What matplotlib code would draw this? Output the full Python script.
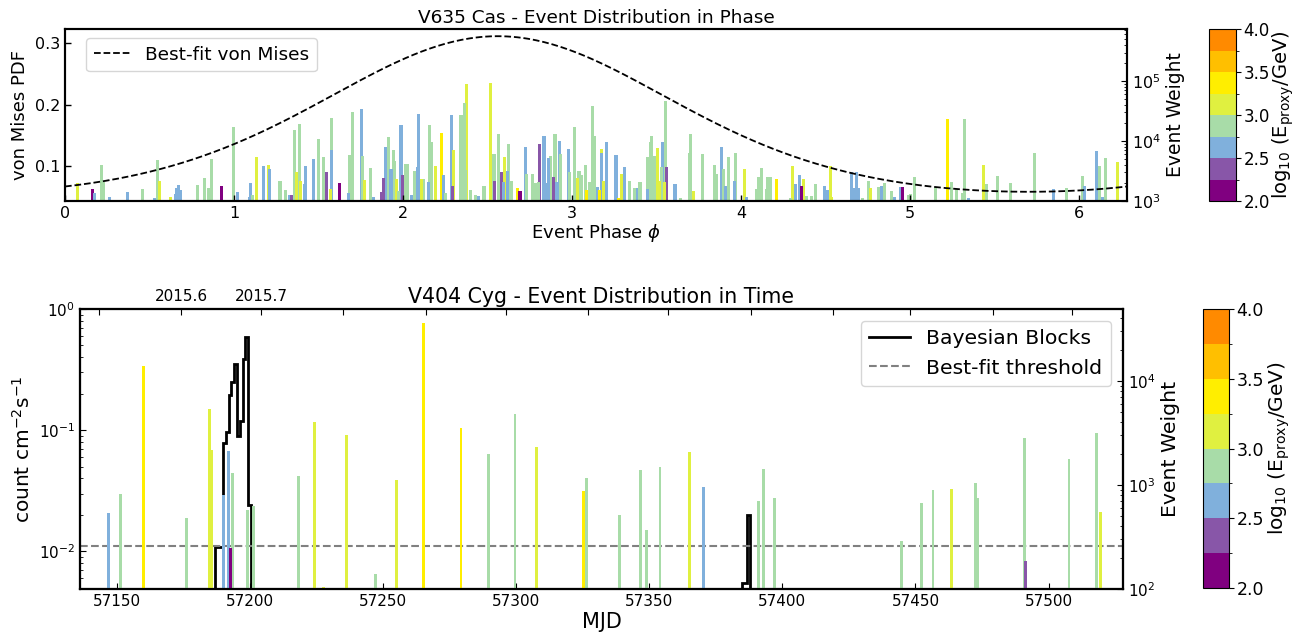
import numpy as np
import matplotlib
matplotlib.use('Agg')
import matplotlib.pyplot as plt
from matplotlib.colors import ListedColormap, BoundaryNorm
from matplotlib.lines import Line2D
import matplotlib.cm as cm

# ---------------- colour scale (log10 E_proxy bins) ----------------
energy_bounds = [2.0, 2.25, 2.5, 2.75, 3.0, 3.25, 3.5, 3.75, 4.0]
energy_colors = ['#800080', '#8856a8', '#80b0dc', '#a8dca8',
                 '#e0f040', '#ffee00', '#ffbf00', '#ff8a00']
cbar_ticks = [2.0, 2.5, 3.0, 3.5, 4.0]
code_energy = {'P': 2.1, 'V': 2.4, 'B': 2.6, 'G': 2.9, 'L': 3.1, 'Y': 3.4}

# ---------------- top panel: V635 Cas, phase ----------------
vm_mu = 2.56
vm_kappa = 0.84

top_phase = [
    0.073, 0.162, 0.174, 0.217, 0.227, 0.266, 0.369, 0.458, 0.529, 0.546,
    0.558, 0.627, 0.651, 0.661, 0.671, 0.684, 0.783, 0.825, 0.848, 0.868,
    0.925, 0.996, 1.020, 1.089, 1.099, 1.110, 1.132, 1.174, 1.203, 1.209,
    1.272, 1.302, 1.327, 1.341, 1.357, 1.371, 1.387, 1.394, 1.420, 1.424,
    1.470, 1.499, 1.529, 1.548, 1.572, 1.574, 1.578, 1.623, 1.677, 1.686,
    1.702, 1.760, 1.757, 1.771, 1.809, 1.828, 1.874, 1.884, 1.899, 1.913,
    1.923, 1.933, 1.943, 1.949, 1.963, 1.973, 1.988, 1.998, 2.016, 2.028,
    2.051, 2.065, 2.087, 2.091, 2.110, 2.120, 2.150, 2.156, 2.170, 2.193,
    2.225, 2.239, 2.249, 2.284, 2.292, 2.298, 2.343, 2.363, 2.367, 2.373,
    2.401, 2.426, 2.446,
    2.479, 2.515, 2.538, 2.540, 2.564, 2.580, 2.594, 2.600, 2.618, 2.623,
    2.639, 2.676, 2.692, 2.722, 2.728, 2.765, 2.781, 2.801, 2.807, 2.834,
    2.846, 2.860, 2.875, 2.889, 2.899, 2.909, 2.925, 2.933, 2.978, 2.982,
    3.014, 3.033, 3.041, 3.057, 3.077, 3.087, 3.102, 3.120, 3.132, 3.152,
    3.160, 3.172, 3.176, 3.185, 3.201, 3.260, 3.274, 3.294, 3.308, 3.339,
    3.369, 3.383, 3.402, 3.448, 3.448, 3.462, 3.471, 3.487, 3.507, 3.517,
    3.531, 3.537, 3.546, 3.554, 3.560, 3.609, 3.639, 3.692, 3.702, 3.718,
    3.773, 3.842, 3.856, 3.882, 3.896, 3.905, 3.925, 3.961, 3.969, 4.018,
    4.034, 4.093, 4.103, 4.118, 4.148, 4.158, 4.172, 4.211, 4.290, 4.306,
    4.320, 4.345, 4.359, 4.369, 4.385, 4.414, 4.438, 4.491, 4.511, 4.527,
    4.537, 4.655, 4.665, 4.684, 4.694, 4.720, 4.753, 4.763, 4.813, 4.829,
    4.848,
    4.888, 4.905, 4.941, 4.955, 4.990, 5.000, 5.026, 5.152, 5.223, 5.247,
    5.276, 5.310, 5.322, 5.345, 5.434, 5.454, 5.517, 5.596, 5.736, 5.848,
    5.927, 6.022, 6.030, 6.105, 6.118, 6.138, 6.158, 6.227,
]
top_log_weight = [
    3.294, 3.194, 3.128, 3.600, 3.311, 3.061, 3.144, 3.194, 3.044, 3.683,
    3.333, 3.061, 3.117, 3.211, 3.267, 3.183, 3.267, 3.378, 3.211, 3.700,
    3.250, 4.228, 3.144, 3.072, 3.294, 3.100, 3.728, 3.583, 3.600, 3.528,
    3.333, 3.183, 3.100, 3.100, 4.183, 3.478, 4.283, 3.333, 3.283, 3.583,
    3.694, 4.033, 3.739, 3.478, 3.194, 3.850, 4.378, 3.294, 3.128, 3.767,
    4.478, 3.750, 4.533, 3.350, 3.544, 3.072, 3.156, 3.378, 3.906, 4.061,
    3.533, 3.533, 3.850, 3.672, 3.361, 3.172, 4.267, 3.433, 3.617, 3.617,
    3.100, 3.500, 3.561, 4.450, 3.361, 3.361, 3.311, 4.267, 3.989, 3.583,
    4.128, 3.433, 3.128, 4.433, 3.250, 3.850, 4.433, 4.639, 3.517, 4.950,
    3.183, 3.100, 3.089,
    3.250, 4.972, 3.783, 3.333, 4.117, 3.483, 3.322, 3.739, 3.500, 3.950,
    3.333, 3.211, 3.167, 3.906, 3.450, 3.450, 3.294, 3.311, 3.950, 4.083,
    3.294, 3.722, 3.750, 3.406, 4.117, 3.322, 4.006, 3.783, 3.867, 3.489,
    4.239, 3.389, 3.506, 3.433, 3.600, 3.183, 3.322, 4.583, 4.083, 3.239,
    3.183, 3.867, 3.806, 3.333, 3.978, 3.767, 3.044, 3.450, 3.572, 3.333,
    3.222, 3.222, 3.311, 3.200, 3.739, 3.989, 4.083, 3.750, 3.878, 3.333,
    3.572, 3.978, 3.322, 4.667, 3.561, 3.283, 3.044, 3.806, 4.117, 3.167,
    3.783, 3.600, 3.450, 3.906, 3.528, 3.256, 3.739, 3.333, 3.806, 3.533,
    3.072, 3.200, 3.406, 3.556, 3.200, 3.406, 3.406, 3.367, 3.044, 3.589,
    3.283, 3.433, 3.250, 3.367, 3.083, 3.083, 3.283, 3.256, 3.183, 3.589,
    3.072, 3.489, 3.211, 3.489, 3.211, 3.044, 3.333, 3.211, 3.239, 3.256,
    3.294,
    3.172, 3.072, 3.239, 3.228, 3.100, 3.117, 3.406, 3.228, 4.361, 3.311,
    3.194, 3.128, 4.361, 3.044, 3.600, 3.283, 3.417, 3.294, 3.794, 3.194,
    3.211, 3.417, 3.250, 3.833, 3.583, 3.061, 3.722, 3.644,
]
# energy bin code per event (P/V/B/G/L/Y -> see code_energy)
top_energy_code = "".join([
    "LPBGGBBGBG", "LLBBBBGGGG", "PGBBBGLBLB", "GGBVGLGLBB", "BGGVLBGPBG",
    "GGBLGBVVBG", "BBGGLGBVGG", "BGBBLGBGGL", "YBGBVLGGGL", "GGB",
    "GLGVGVBLBG", "GYPBGGGGVB", "BBGVGBBGBG", "GLGGGYGGGB", "YLBLBBYLBG",
    "GBGBGGGGLL", "GBLGVBGGGL", "GGGBGBGBGL", "BGGGGGGYGL", "BBPLGGGBBL",
    "LBBBBGGLGB", "G",
    "GBBPGGGGYG", "GGGBLGGGGB", "GGBBGBGL",
])

# ---------------- bottom panel: V404 Cyg, time ----------------
bot_mjd = [
    57146.7, 57151.2, 57159.8, 57176.1, 57184.6, 57185.5, 57189.9, 57191.7,
    57192.4, 57193.2, 57199.0, 57201.1, 57218.2, 57224.0, 57227.4, 57236.2,
    57246.9, 57255.0, 57265.0, 57279.2, 57289.4, 57299.5, 57307.4, 57325.4,
    57326.2, 57338.6, 57346.5, 57348.9, 57354.0, 57365.2, 57370.5, 57391.1,
    57393.0, 57397.1, 57444.6, 57452.1, 57456.6, 57463.7, 57472.7, 57473.4,
    57491.1, 57491.5, 57507.7, 57518.2, 57519.6,
]
bot_log_weight = [
    2.734, 2.913, 4.144, 2.683, 3.730, 3.337, 2.904, 3.327,
    2.390, 3.118, 2.760, 2.800, 3.087, 3.606, 2.020, 3.480,
    2.144, 3.050, 4.555, 3.548, 3.298, 3.683, 3.365, 2.940,
    3.067, 2.710, 3.144, 2.567, 3.173, 3.317, 2.980, 2.846,
    3.154, 2.875, 2.460, 2.830, 2.950, 2.960, 3.020, 2.870,
    3.450, 2.270, 3.250, 3.500, 2.740,
]
bot_energy_code = "".join([
    "BGYGLLBB", "PGGGGLLL", "GLYYGGLY", "GGGGGLBG", "GGGGGLGG", "GVGGL",
])

bb1_edges = [57186.86, 57189.86, 57190.87, 57191.90, 57192.87, 57193.88,
             57194.90, 57196.13, 57197.15, 57198.10, 57199.10, 57200.15]
bb1_flux = [0.0109, 0.0785, 0.0967, 0.196, 0.248, 0.352,
            0.090, 0.120, 0.390, 0.592, 0.024]
bb2_edges = [57384.9, 57386.8, 57387.8]
bb2_flux = [0.00546, 0.020]
threshold = 0.011

month_mjd = [57143, 57174, 57204, 57235, 57266, 57296, 57327, 57357,
             57388, 57419, 57448, 57479, 57509]
month_labels = ['', '2015.6', '2015.7', '', '', '', '', '', '', '', '', '', '']

# ---------------- figure ----------------
W, H = 1298, 633
fig = plt.figure(figsize=(W / 100, H / 100), dpi=100)
cmap = ListedColormap(energy_colors)
norm = BoundaryNorm(energy_bounds, cmap.N)


def colors_for(codes):
    return [cmap(norm(code_energy[c])) for c in codes]


def style_spines(ax, lw=1.5):
    for s in ax.spines.values():
        s.set_linewidth(lw)


# ---- top panel
ax1 = fig.add_axes([65 / W, 1 - 201 / H, 1062 / W, 172 / H])
phi = np.linspace(0, 2 * np.pi, 400)
vm = np.exp(vm_kappa * np.cos(phi - vm_mu)) / (2 * np.pi * np.i0(vm_kappa))
ax1.plot(phi, vm, 'k--', lw=1.3, label='Best-fit von Mises')
ax1.set_xlim(0, 2 * np.pi)
ax1.set_ylim(0.043, 0.323)
ax1.set_yticks([0.1, 0.2, 0.3])
ax1.set_xticks([0, 1, 2, 3, 4, 5, 6])
ax1.set_ylabel('von Mises PDF', fontsize=13)
ax1.set_xlabel(r'Event Phase $\phi$', fontsize=13, labelpad=1)
ax1.set_title('V635 Cas - Event Distribution in Phase', fontsize=13.3, pad=4)
ax1.tick_params(direction='in', labelsize=11.5, length=4, width=1)

ax1t = ax1.twinx()
ax1t.set_yscale('log')
tw = 10 ** np.array(top_log_weight)
tc = colors_for(top_energy_code)
order = np.argsort(tw)[::-1]
ax1t.bar(np.array(top_phase)[order], tw[order] - 1, bottom=1, width=0.018,
         color=[tc[i] for i in order], linewidth=0)
ax1t.set_ylim(1e3, 7.4e5)
ax1t.set_xlim(0, 2 * np.pi)
ax1t.set_ylabel('Event Weight', fontsize=13.5)
ax1t.tick_params(which='both', direction='in', labelsize=11.5)
ax1t.tick_params(which='major', length=4)
ax1t.tick_params(which='minor', length=2)
ax1.set_zorder(ax1t.get_zorder() + 1)
ax1.patch.set_visible(False)
ax1.legend(loc='upper left', fontsize=13.3, borderaxespad=0,
           bbox_to_anchor=(0.02, 0.945))
style_spines(ax1)
style_spines(ax1t)

cax1 = fig.add_axes([1209 / W, 1 - 201 / H, 27 / W, 172 / H])
cb1 = fig.colorbar(cm.ScalarMappable(norm=norm, cmap=cmap), cax=cax1,
                   ticks=cbar_ticks)
cb1.ax.tick_params(labelsize=12, pad=2)
cb1.set_label(r'log$_{10}$ (E$_{\rm proxy}$/GeV)', fontsize=14, labelpad=0)

# ---- bottom panel
ax2 = fig.add_axes([80 / W, 1 - 589 / H, 1043 / W, 280 / H])
ax2.set_yscale('log')
ax2.stairs(bb1_flux, bb1_edges, baseline=1e-4, color='k', lw=2)
ax2.stairs(bb2_flux, bb2_edges, baseline=1e-4, color='k', lw=2)
ax2.axhline(threshold, color='gray', ls='--', lw=1.5)
ax2.set_xlim(57136, 57528)
ax2.set_ylim(0.0049, 1.0)
ax2.set_xlabel('MJD', fontsize=15, labelpad=2)
ax2.set_ylabel(r'count cm$^{-2}$s$^{-1}$', fontsize=14.5)
ax2.tick_params(which='both', direction='in', labelsize=11)
ax2.tick_params(which='major', length=4)
ax2.tick_params(which='minor', length=2)
ax2.set_title('V404 Cyg - Event Distribution in Time', fontsize=14.8,
              y=1.0, pad=4)

ax2t = ax2.twinx()
ax2t.set_yscale('log')
bw = 10 ** np.array(bot_log_weight)
bc = colors_for(bot_energy_code)
border = np.argsort(bw)[::-1]
ax2t.bar(np.array(bot_mjd)[border], bw[border] - 1, bottom=1, width=1.1,
         color=[bc[i] for i in border], linewidth=0)
ax2t.set_ylim(100, 4.9e4)
ax2t.set_ylabel('Event Weight', fontsize=14.7)
ax2t.tick_params(which='both', direction='in', labelsize=11)
ax2t.tick_params(which='major', length=4)
ax2t.tick_params(which='minor', length=2)

ax2top = ax2.twiny()
ax2top.set_xlim(ax2.get_xlim())
ax2top.set_xticks(month_mjd)
ax2top.set_xticklabels(month_labels)
ax2top.tick_params(direction='in', labelsize=11, length=4)

handles = [Line2D([], [], color='k', lw=2),
           Line2D([], [], color='gray', ls='--', lw=1.5)]
ax2top.legend(handles, ['Bayesian Blocks', 'Best-fit threshold'],
              loc='upper right', fontsize=14.7, borderaxespad=0.6)
for a in (ax2, ax2t, ax2top):
    style_spines(a)

cax2 = fig.add_axes([1203 / W, 1 - 588 / H, 26 / W, 279 / H])
cb2 = fig.colorbar(cm.ScalarMappable(norm=norm, cmap=cmap), cax=cax2,
                   ticks=cbar_ticks)
cb2.ax.tick_params(labelsize=12.5, pad=2)
cb2.set_label(r'log$_{10}$ (E$_{\rm proxy}$/GeV)', fontsize=14.5, labelpad=2)

fig.savefig('out.png', dpi=100)
